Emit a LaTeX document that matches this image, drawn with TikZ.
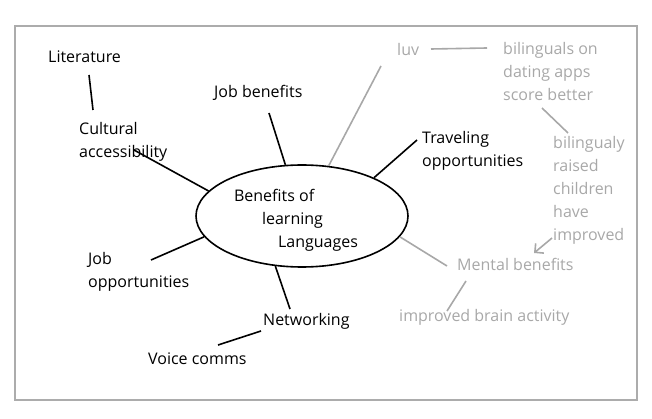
\documentclass[tikz,border=0pt]{standalone}
\usepackage{fontspec}
\setmainfont{Open Sans}
\usetikzlibrary{shapes.geometric,arrows.meta,positioning}
\definecolor{lightink}{RGB}{168,168,168}
\definecolor{frameink}{RGB}{172,172,172}

\begin{document}
\begin{tikzpicture}[x=1pt, y=-1pt,
    leaf/.style={anchor=west, inner sep=0pt, yshift=-1.5pt, align=left, font=\fontsize{16}{23}\selectfont},
    fadedleaf/.style={leaf, text=lightink},
    hubnode/.style={draw, ellipse, line width=1.6pt, minimum width=212pt, minimum height=102pt, inner sep=0pt, align=left, font=\fontsize{16}{23}\selectfont},
    link/.style={line width=1.6pt},
    softlink/.style={line width=1.6pt, draw=lightink}]
    \useasboundingbox (0,0) rectangle (652,419);
    \draw[frameink, line width=2pt] (15,26) rectangle (637,400);
    % Nodes
    \node[hubnode] (hub) at (302,216) {\rule{0pt}{20pt}Benefits of\\\hspace*{28pt}learning\\\hspace*{44pt}Languages\hspace*{12pt}};
    \node[leaf] (lit) at (48,55) {Literature};
    \node[leaf] (cult) at (79,140) {Cultural\\accessibility};
    \node[leaf] (jobben) at (214,91) {Job benefits};
    \node[leaf] (travel) at (422,149) {Traveling\\opportunities};
    \node[leaf] (jobopp) at (88,270) {Job\\opportunities};
    \node[leaf] (network) at (263,320) {Networking};
    \node[leaf] (voice) at (148,357) {Voice comms};
    \node[fadedleaf] (luv) at (397,48) {luv};
    \node[fadedleaf] (dating) at (503,70) {bilinguals on\\dating apps\\score better};
    \node[fadedleaf] (children) at (553,189) {bilingualy\\raised\\children\\have\\improved};
    \node[fadedleaf] (mental) at (457,263) {Mental benefits};
    \node[fadedleaf] (brain) at (399,316) {improved brain activity};
    % Free ends
    \coordinate (lit-foot) at (89,75);
    \coordinate (cult-head) at (93,110);
    \coordinate (cult-tail) at (134,150);
    \coordinate (jobben-foot) at (269,113);
    \coordinate (travel-tail) at (417,140);
    \coordinate (jobopp-tail) at (151,260);
    \coordinate (network-head) at (290,309);
    \coordinate (network-tail) at (261,331);
    \coordinate (voice-head) at (218,345);
    \coordinate (luv-foot) at (381,66);
    \coordinate (luv-tail) at (431,49);
    \coordinate (dating-head) at (487,48);
    \coordinate (dating-foot) at (542,108);
    \coordinate (children-head) at (568,133);
    \coordinate (children-foot) at (552,238);
    \coordinate (mental-tip) at (534,253);
    \coordinate (mental-head) at (447,266);
    \coordinate (mental-foot) at (466,281);
    \coordinate (brain-head) at (447,311);
    % Connectors
    \draw[link] (lit-foot) -- (cult-head);
    \draw[link] (hub.165) -- (cult-tail);
    \draw[link] (hub.108) -- (jobben-foot);
    \draw[link] (hub.28) -- (travel-tail);
    \draw[link] (hub.192) -- (jobopp-tail);
    \draw[link] (hub.242) -- (network-head);
    \draw[link] (network-tail) -- (voice-head);
    \draw[softlink] (hub.62) -- (luv-foot);
    \draw[softlink] (luv-tail) -- (dating-head);
    \draw[softlink] (dating-foot) -- (children-head);
    \draw[softlink, -{Straight Barb[angle=90:9pt]}] (children-foot) -- (mental-tip);
    \draw[softlink] (hub.348) -- (mental-head);
    \draw[softlink] (mental-foot) -- (brain-head);
\end{tikzpicture}
\end{document}
